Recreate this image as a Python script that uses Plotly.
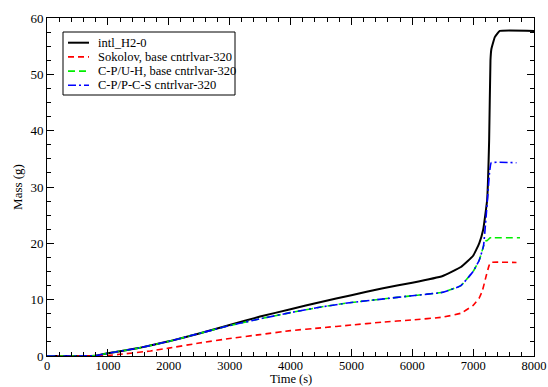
import plotly.graph_objects as go

# Data
t_black = [0, 500, 800, 1000, 1500, 2000, 2500, 3000, 3500, 4000, 4500, 5000, 5500, 6000,
           6500, 6800, 7000, 7100, 7165, 7230, 7263, 7285, 7300, 7356, 7438, 8000]
m_black = [0, 0, 0.05, 0.5, 1.4, 2.6, 4.0, 5.5, 7.0, 8.3, 9.6, 10.8, 12.0, 13.0,
           14.2, 15.8, 17.8, 20.0, 22.4, 27.7, 38.3, 52.5, 54.5, 56.6, 57.7, 57.7]

t_red = [0, 800, 1000, 1200, 1700, 2000, 2500, 3000, 3500, 4000, 4500, 5000, 5500, 6000,
         6500, 6800, 7000, 7100, 7150, 7214, 7260, 7285, 7712]
m_red = [0, 0, 0.1, 0.3, 0.9, 1.4, 2.3, 3.1, 3.8, 4.5, 5.0, 5.5, 6.0, 6.4,
         6.9, 7.6, 9.0, 10.3, 11.5, 14.2, 16.0, 16.6, 16.6]

t_green = [0, 500, 800, 1000, 1500, 2000, 2500, 3000, 3500, 4000, 4500, 5000, 5500, 6000,
           6500, 6800, 7000, 7100, 7170, 7200, 7230, 7280, 7300, 7770]
m_green = [0, 0, 0.05, 0.5, 1.4, 2.6, 4.0, 5.4, 6.6, 7.7, 8.7, 9.5, 10.1, 10.7,
           11.3, 12.5, 15.0, 17.0, 19.5, 20.4, 20.5, 21.0, 21.0, 21.0]

t_blue = [0, 500, 800, 1000, 1500, 2000, 2500, 3000, 3500, 4000, 4500, 5000, 5500, 6000,
          6500, 6800, 7000, 7100, 7170, 7214, 7269, 7297, 7712]
m_blue = [0, 0, 0.05, 0.5, 1.4, 2.6, 4.0, 5.4, 6.6, 7.7, 8.7, 9.5, 10.1, 10.7,
          11.3, 12.5, 15.0, 17.0, 19.5, 24.8, 32.5, 34.3, 34.3]

names = ["intl_H2-0", "Sokolov, base cntrlvar-320",
         "C-P/U-H, base cntrlvar-320", "C-P/P-C-S cntrlvar-320"]
colors = ["black", "#ff0000", "#00ee00", "#0000ff"]
dashes = ["solid", "6px,4px", "7px,4px", "8px,3px,2px,3px"]
widths = [2, 1.6, 1.6, 1.6]
x_title = "Time (s)"
y_title = "Mass (g)"

FONT = "Liberation Serif"

fig = go.Figure()
for t, m, nm, c, d, w in zip([t_black, t_red, t_green, t_blue],
                             [m_black, m_red, m_green, m_blue],
                             names, colors, dashes, widths):
    fig.add_trace(go.Scatter(x=t, y=m, mode="lines", name=nm, showlegend=False,
                             line=dict(color=c, width=w, dash=d, shape="spline", smoothing=0.3)))

axis_common = dict(showline=True, linecolor="black", linewidth=1, mirror="allticks",
                   ticks="inside", ticklen=7, tickcolor="black", showgrid=False,
                   zeroline=False, automargin=False)

fig.update_xaxes(range=[0, 8000], dtick=1000, tick0=0, ticklabelstandoff=-2,
                 tickfont=dict(family=FONT, size=12.5, color="black"),
                 minor=dict(ticks="inside", dtick=200, ticklen=4, tickcolor="black"),
                 **axis_common)
fig.update_yaxes(range=[0, 60], dtick=10, tick0=0,
                 tickfont=dict(family=FONT, size=13, color="black"),
                 title=dict(text=y_title, font=dict(family=FONT, size=13, color="black"), standoff=4),
                 minor=dict(ticks="inside", dtick=2.5, ticklen=4, tickcolor="black"),
                 **axis_common)

# Custom legend box (positions in plot-area fractions)
L, R, T, B = 47, 534, 18, 356
def px(x): return (x - L) / (R - L)
def py(y): return (B - y) / (B - T)

shapes = [dict(type="rect", xref="paper", yref="paper", x0=px(63), x1=px(235),
               y0=py(95), y1=py(32), line=dict(color="black", width=1), fillcolor="white", layer="above")]
annotations = []
row_y = [42.7, 56.9, 71.1, 85.3]
for i, (nm, c, d, w) in enumerate(zip(names, colors, dashes, widths)):
    shapes.append(dict(type="line", xref="paper", yref="paper", x0=px(68), x1=px(89),
                       y0=py(row_y[i]), y1=py(row_y[i]),
                       line=dict(color=c, width=w, dash=d), layer="above"))
    annotations.append(dict(xref="paper", yref="paper", x=px(96), y=py(row_y[i]),
                            xanchor="left", yanchor="middle", text=nm, showarrow=False,
                            font=dict(family=FONT, size=12.5, color="black")))

# x-axis title placed below the tick labels
annotations.append(dict(xref="paper", yref="paper", x=0.5, y=py(387),
                        xanchor="center", yanchor="bottom", text=x_title, showarrow=False,
                        borderpad=0, font=dict(family=FONT, size=12.5, color="black")))

fig.update_layout(
    width=548, height=387,
    margin=dict(l=L, r=548 - R, t=T, b=387 - B),
    paper_bgcolor="white", plot_bgcolor="white",
    font=dict(family=FONT, size=12, color="black"),
    shapes=shapes, annotations=annotations,
    showlegend=False,
)

fig.write_html("out.html")
